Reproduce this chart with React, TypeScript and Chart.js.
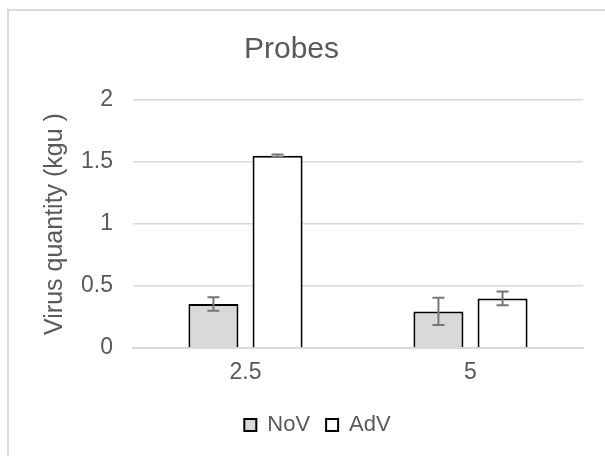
import React, { useEffect, useRef } from "react";
import { Chart, registerables } from "chart.js";

Chart.register(...registerables);

const categories = ["2.5", "5"];
const novValues = [0.355, 0.295];
const novErrors = [0.055, 0.11];
const advValues = [1.55, 0.4];
const advErrors = [0.01, 0.055];
const yTicks = [0, 0.5, 1, 1.5, 2];

const TEXT = "#595959";
const FONT = "'Liberation Sans', Arial, sans-serif";

const errorBarPlugin = {
  id: "errorBars",
  afterLayout(chart: any) {
    if (chart.legend) {
      chart.legend.left += 26;
      chart.legend.right += 26;
    }
  },
  afterDatasetsDraw(chart: any) {
    const ctx = chart.ctx;
    const yScale = chart.scales.y;
    chart.data.datasets.forEach((ds: any, di: number) => {
      const meta = chart.getDatasetMeta(di);
      const errs: number[] = ds.errors || [];
      meta.data.forEach((el: any, i: number) => {
        const v = ds.data[i];
        const e = errs[i];
        if (e == null) return;
        const x = el.x;
        const yTop = yScale.getPixelForValue(v + e);
        const yBot = yScale.getPixelForValue(v - e);
        ctx.save();
        ctx.strokeStyle = "#767676";
        ctx.lineWidth = 2;
        ctx.beginPath();
        ctx.moveTo(x, yTop);
        ctx.lineTo(x, yBot);
        ctx.moveTo(x - 6, yTop);
        ctx.lineTo(x + 6, yTop);
        ctx.moveTo(x - 6, yBot);
        ctx.lineTo(x + 6, yBot);
        ctx.stroke();
        ctx.restore();
      });
    });
  },
};

export default function App() {
  const ref = useRef<HTMLCanvasElement | null>(null);
  useEffect(() => {
    if (!ref.current) return;
    const chart = new Chart(ref.current, {
      type: "bar",
      data: {
        labels: categories,
        datasets: [
          {
            label: "NoV",
            data: novValues,
            errors: novErrors,
            backgroundColor: "#d9d9d9",
            borderColor: "#000000",
            borderWidth: 2,
            categoryPercentage: 0.57,
            barPercentage: 0.78,
          } as any,
          {
            label: "AdV",
            data: advValues,
            errors: advErrors,
            backgroundColor: "#ffffff",
            borderColor: "#000000",
            borderWidth: 2,
            categoryPercentage: 0.57,
            barPercentage: 0.78,
          } as any,
        ],
      },
      options: {
        animation: false,
        responsive: false,
        devicePixelRatio: 1,
        layout: { padding: { left: 0, right: 22, top: 0, bottom: 10 } },
        plugins: {
          title: {
            display: true,
            text: "Probes",
            color: TEXT,
            font: { family: FONT, size: 30, weight: "normal" },
            padding: { top: 32, bottom: 32 },
          },
          legend: {
            position: "bottom",
            labels: {
              color: TEXT,
              font: { family: FONT, size: 22 },
              boxWidth: 12,
              boxHeight: 12,
              padding: 16,
            },
          },
          tooltip: { enabled: false },
        },
        scales: {
          x: {
            grid: { display: false, drawTicks: false },
            border: { display: true, color: "#d9d9d9", width: 2 },
            ticks: { color: TEXT, font: { family: FONT, size: 23 }, padding: 11 },
            afterFit: (s: any) => {
              s.height = 50;
            },
          },
          y: {
            min: 0,
            max: 2,
            afterBuildTicks: (s: any) => {
              s.ticks = yTicks.map((v) => ({ value: v }));
            },
            grid: { color: "#d9d9d9", lineWidth: 1.5, drawTicks: false },
            border: { display: false },
            ticks: {
              color: TEXT,
              font: { family: FONT, size: 23 },
              padding: 20,
              callback: (v: any) => String(v),
            },
            title: {
              display: true,
              text: "Virus quantity (kgu )",
              color: TEXT,
              font: { family: FONT, size: 25 },
              padding: { top: 40, bottom: 0 },
            },
            afterFit: (s: any) => {
              s.width = 133;
            },
          },
        },
      },
      plugins: [errorBarPlugin],
    });
    return () => chart.destroy();
  }, []);
  return (
    <div style={{ position: "absolute", left: 0, top: 0, width: 605, height: 456, background: "#fff" }}>
      <div
        style={{
          position: "absolute",
          left: 7,
          top: 9,
          width: 620,
          height: 470,
          border: "2px solid #d9d9d9",
          boxSizing: "border-box",
        }}
      />
      <canvas ref={ref} width={605} height={456} style={{ position: "absolute", left: 0, top: 0 }} />
    </div>
  );
}
